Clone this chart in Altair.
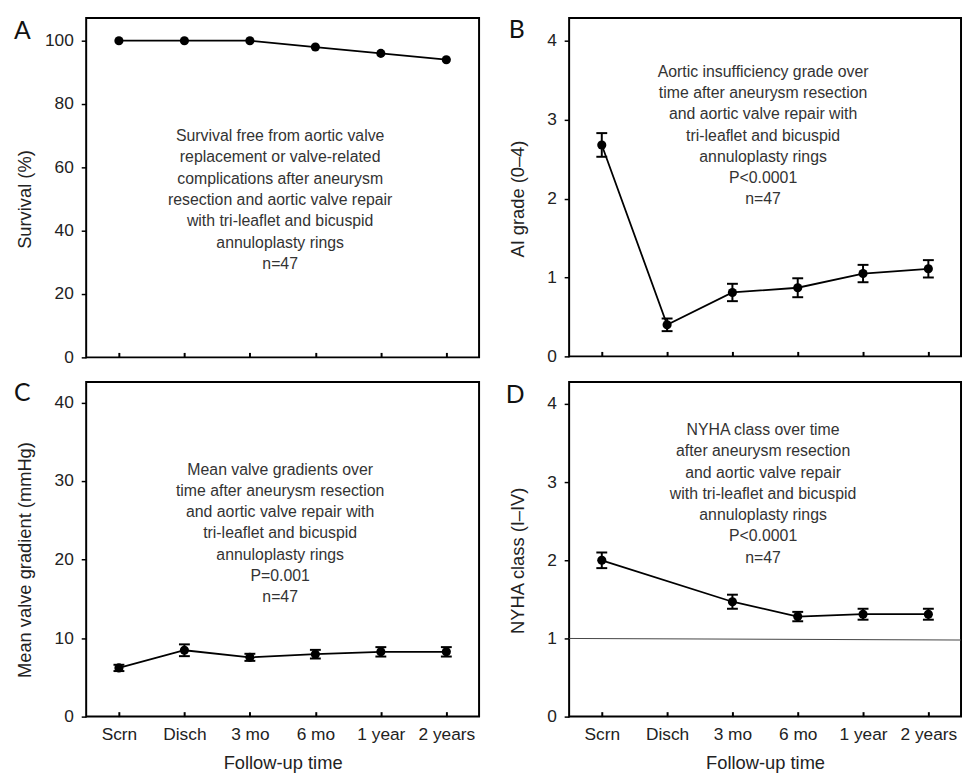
import altair as alt
import pandas as pd

categories = ["Scrn", "Disch", "3 mo", "6 mo", "1 year", "2 years"]
survival = [100, 100, 100, 98, 96, 94]
ai_mean = [2.68, 0.40, 0.81, 0.87, 1.05, 1.11]
ai_err = [0.15, 0.08, 0.11, 0.12, 0.11, 0.11]
grad_mean = [6.2, 8.45, 7.55, 7.95, 8.25, 8.25]
grad_err = [0.4, 0.75, 0.45, 0.55, 0.6, 0.6]
nyha_mean = [2.0, None, 1.47, 1.28, 1.31, 1.31]
nyha_err = [0.10, None, 0.09, 0.06, 0.07, 0.07]

note_a = ["Survival free from aortic valve", "replacement or valve-related",
          "complications after aneurysm", "resection and aortic valve repair",
          "with tri-leaflet and bicuspid", "annuloplasty rings", "n=47"]
note_b = ["Aortic insufficiency grade over", "time after aneurysm resection",
          "and aortic valve repair with", "tri-leaflet and bicuspid",
          "annuloplasty rings", "P<0.0001", "n=47"]
note_c = ["Mean valve gradients over", "time after aneurysm resection",
          "and aortic valve repair with", "tri-leaflet and bicuspid",
          "annuloplasty rings", "P=0.001", "n=47"]
note_d = ["NYHA class over time", "after aneurysm resection",
          "and aortic valve repair", "with tri-leaflet and bicuspid",
          "annuloplasty rings", "P<0.0001", "n=47"]

FONT = "Liberation Sans"
TXT = "#222222"


def make_df(mean, err=None):
    rows = []
    for i, c in enumerate(categories):
        m = mean[i]
        e = err[i] if err is not None else None
        rows.append({
            "t": c,
            "v": m,
            "lo": (m - e) if (m is not None and e is not None) else None,
            "hi": (m + e) if (m is not None and e is not None) else None,
        })
    return pd.DataFrame(rows)


def panel(df, ymax, yticks, ytitle, title_x, letter, letter_x, letter_y,
          note, note_y, w, h, show_x, errors=True, ref_line=False):
    xaxis_kw = dict(labels=show_x, offset=-5, tickSize=5, tickWidth=2,
                    tickColor="black", domain=False, grid=False,
                    labelPadding=9.5, labelFontSize=17.5, labelColor=TXT,
                    labelAngle=0, labelFont=FONT)
    if show_x:
        xaxis_kw.update(title="Follow-up time", titleFontSize=18.5,
                        titleFontWeight="normal", titleColor=TXT,
                        titleFont=FONT, titleBaseline="alphabetic", titleY=57.7)
    else:
        xaxis_kw.update(title=None)
    x = alt.X("t:N", sort=categories,
              scale=alt.Scale(type="point", domain=categories, padding=0.5),
              axis=alt.Axis(**xaxis_kw))

    mid = yticks[-1] / 2.0
    title_y = h - (mid / ymax) * h
    yscale = alt.Scale(domain=[0, ymax], nice=False, zero=True)
    yaxis = alt.Axis(values=yticks, format="d", title=ytitle, tickSize=5,
                     tickWidth=1.5, tickColor="black", domain=False, grid=False,
                     labelPadding=8, labelFontSize=17.5, labelColor=TXT,
                     labelFont=FONT, titleFont=FONT, titleFontSize=18.5,
                     titleFontWeight="normal", titleColor=TXT,
                     titleX=title_x, titleY=title_y, titleAngle=270,
                     titleAlign="center", titleBaseline="middle")

    def Y(f):
        return alt.Y(f + ":Q", scale=yscale, axis=yaxis)

    base = alt.Chart(df)
    layers = [
        base.mark_line(color="black", strokeWidth=1.8).encode(
            x=x, y=Y("v")).transform_filter("isValid(datum.v)"),
    ]
    if errors:
        layers.append(base.mark_rule(color="black", strokeWidth=2).encode(
            x=x, y=Y("lo"), y2="hi:Q"))
        layers.append(base.mark_tick(color="black", size=11, thickness=2,
                                     orient="horizontal", opacity=1).encode(x=x, y=Y("lo")))
        layers.append(base.mark_tick(color="black", size=11, thickness=2,
                                     orient="horizontal", opacity=1).encode(x=x, y=Y("hi")))
    layers.append(base.mark_circle(color="black", size=85, opacity=1).encode(
        x=x, y=Y("v")))
    one = alt.Chart(pd.DataFrame({"k": [0]}))
    if ref_line:
        layers.append(one.mark_rule(color="#444444", strokeWidth=1).encode(
            x=alt.value(0), x2=alt.value(w),
            y=alt.datum(1.0, scale=yscale), y2=alt.datum(0.98)))
    layers.append(one.mark_text(text=note, align="center", baseline="alphabetic",
                                fontSize=16, lineHeight=21.5, font=FONT,
                                color="#333333").encode(
        x=alt.value(196), y=alt.value(note_y)))
    layers.append(one.mark_text(text=letter, align="left", baseline="top",
                                fontSize=25, font="Lato",
                                color="#111111").encode(
        x=alt.value(letter_x), y=alt.value(letter_y)))
    return alt.layer(*layers).properties(width=w, height=h)


pA = panel(make_df(survival), 107.2, [0, 20, 40, 60, 80, 100], "Survival (%)",
           -62.5, "A", -73, 1.5, note_a, 124.5, 397, 343, False, errors=False)
pB = panel(make_df(ai_mean, ai_err), 4.29, [0, 1, 2, 3, 4], "AI grade (0\u20134)",
           -52, "B", -61, 0, note_b, 59.5, 396, 342, False)
pC = panel(make_df(grad_mean, grad_err), 42.6, [0, 10, 20, 30, 40],
           "Mean valve gradient (mmHg)", -62, "C", -73, -0.5, note_c, 93.5,
           397, 338, True)
pD = panel(make_df(nyha_mean, nyha_err), 4.28, [0, 1, 2, 3, 4],
           "NYHA class (I\u2013IV)", -52, "D", -64, 1.2, note_d, 53.5,
           396, 338, True, ref_line=True)

chart = alt.concat(pA, pB, pC, pD, columns=2,
                   spacing={"row": 25, "column": 91}, bounds="flush").properties(
    padding={"left": 5, "top": 5, "right": 0, "bottom": 0}
).configure_view(stroke="black", strokeWidth=2)

chart.save("out.html", embed_options={"renderer": "svg", "actions": False})
